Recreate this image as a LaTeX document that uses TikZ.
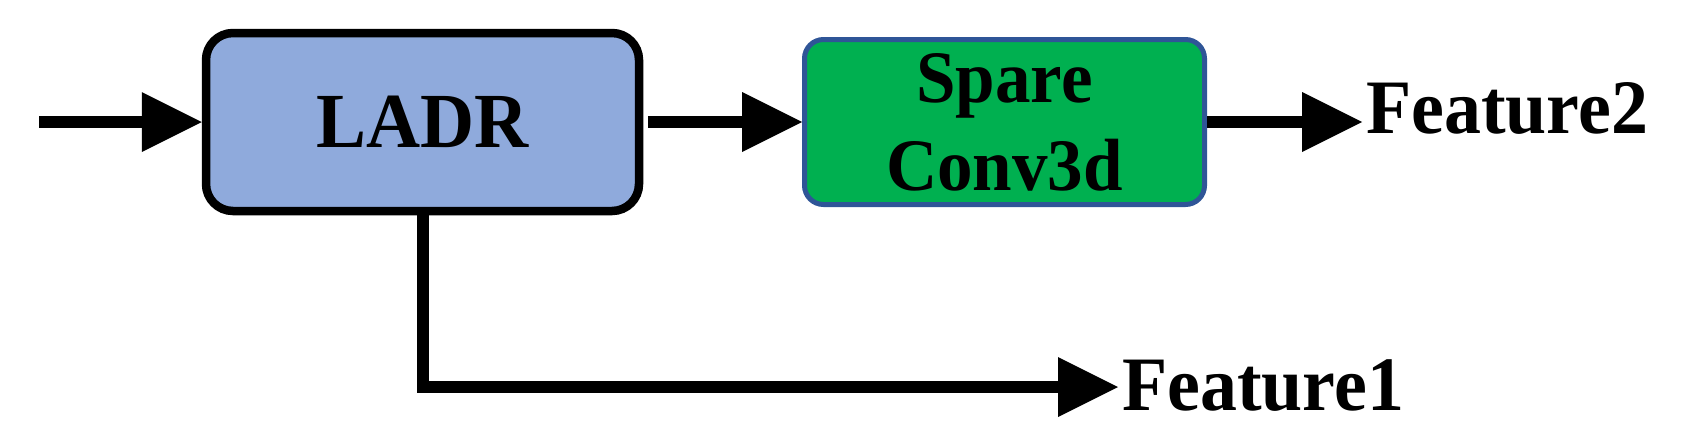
\documentclass[tikz,border=0pt]{standalone}
\usepackage{fontspec}
\setmainfont{Liberation Serif}[FakeStretch=0.96]
\usetikzlibrary{arrows.meta}
\definecolor{ladrblue}{HTML}{8FAADC}
\definecolor{sparegreen}{HTML}{00B050}
\definecolor{spareborder}{HTML}{2F5597}
\begin{document}
\begin{tikzpicture}[x=1pt,y=-1pt,
  conn/.style={line width=12pt, -{Triangle[length=60pt,width=60pt,line width=0pt]}},
  ladrbox/.style={draw=black, line width=8.5pt, fill=ladrblue, rounded corners=27pt,
    minimum width=433pt, minimum height=178pt, inner sep=0pt,
    font=\bfseries\fontsize{78}{88}\selectfont},
  sparebox/.style={draw=spareborder, line width=5pt, fill=sparegreen, rounded corners=19pt,
    minimum width=400pt, minimum height=165pt, inner sep=0pt, align=center,
    font=\bfseries\fontsize{74}{88}\selectfont},
  featuretext/.style={inner xsep=4pt, inner ysep=0pt,
    font=\bfseries\fontsize{77}{88}\selectfont}
]
\useasboundingbox (0,0) rectangle (1684,437);
\node[ladrbox] (ladr) at (422.5,122) {LADR};
\node[sparebox] (spare) at (1004.5,122) {Spare\\Conv3d};
\node[featuretext, anchor=base west] (f2) at (1362,133) {Feature2};
\node[featuretext, anchor=base west] (f1) at (1118,410) {Feature1};
\coordinate (in) at (39,122);
\draw[conn] (in) -- (ladr.west);
\draw[conn, shorten <=5pt] (ladr.east) -- (spare.west);
\draw[conn] (spare.east) -- (spare.east -| f2.west);
\draw[conn] (ladr.south) |- ([yshift=-2pt]f1.west);
\end{tikzpicture}
\end{document}
